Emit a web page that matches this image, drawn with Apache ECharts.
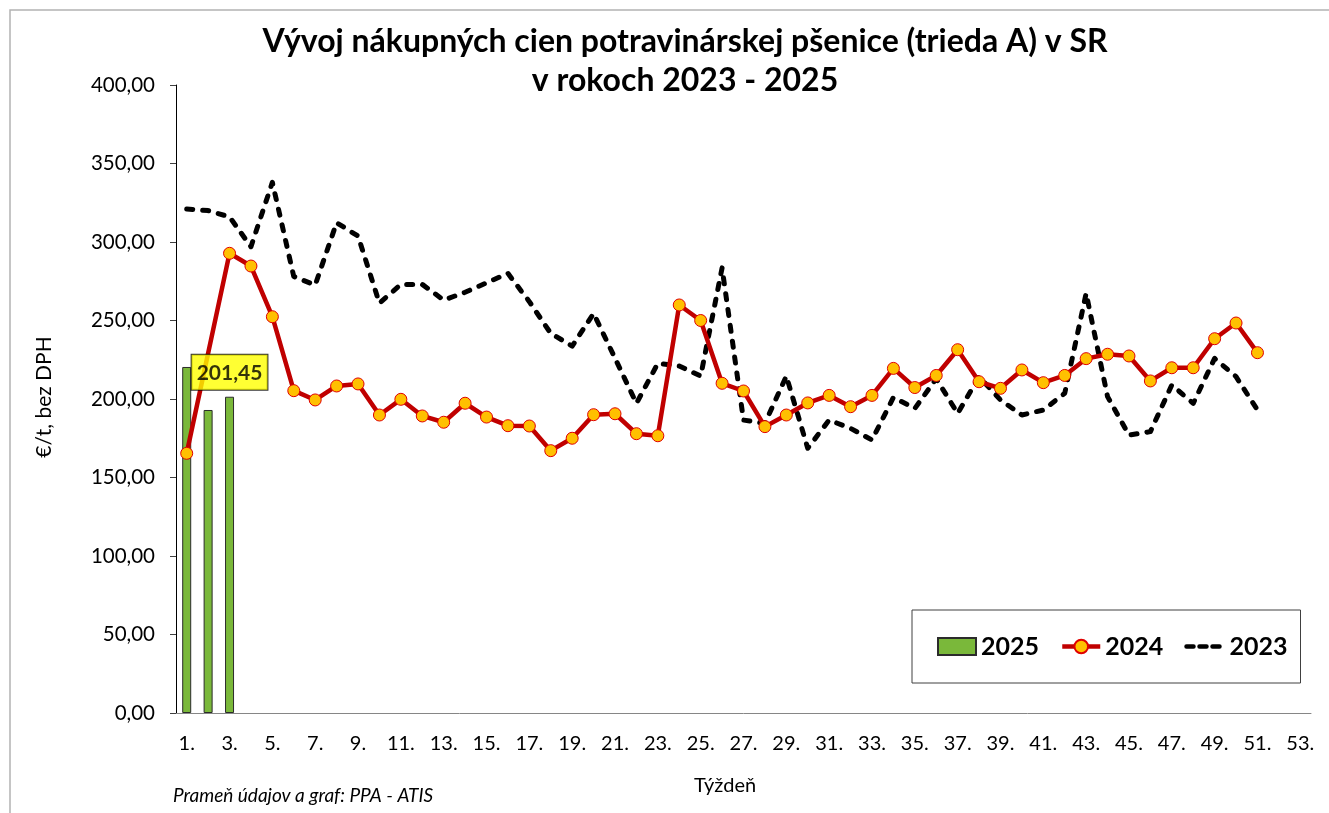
<!DOCTYPE html>
<html>
<head>
<meta charset="utf-8">
<script src="https://cdn.jsdelivr.net/npm/echarts@6/dist/echarts.min.js"></script>
<style>
    html, body { margin: 0; padding: 0; background: #fff; }
    #chart { width: 1329px; height: 813px; }
</style>
</head>
<body>
<div id="chart"></div>
<script>
// tyzdne 1. - 53.
var weeks = ['1.','2.','3.','4.','5.','6.','7.','8.','9.','10.','11.','12.','13.','14.','15.','16.','17.','18.','19.','20.',
    '21.','22.','23.','24.','25.','26.','27.','28.','29.','30.','31.','32.','33.','34.','35.','36.','37.','38.','39.','40.',
    '41.','42.','43.','44.','45.','46.','47.','48.','49.','50.','51.','52.','53.'];

// 2025 - stlpce
var prices2025 = [220.4, 193.0, 201.45];

// 2024 - cervena ciara (2. tyzden skryty pod popisom)
var prices2024 = [165.4, '-', 292.8, 284.7, 252.4, 205.3, 199.4, 208.3, 209.6, 189.8,
    199.8, 189.2, 185.2, 197.3, 188.5, 183.0, 182.8, 167.1, 175.0, 190.0,
    190.6, 177.9, 176.6, 259.9, 250.0, 210.0, 205.1, 182.4, 189.8, 197.5,
    202.3, 195.1, 202.3, 219.5, 207.3, 215.0, 231.4, 211.0, 206.8, 218.5,
    210.4, 215.0, 225.7, 228.5, 227.4, 211.5, 219.9, 219.9, 238.4, 248.4,
    229.5];

// 2023 - ciarkovana ciara
var prices2023 = [321.0, 320.0, 316.0, 297.0, 338.0, 278.0, 272.6, 312.3, 303.8, 261.0,
    273.0, 273.0, 263.0, 268.0, 274.0, 280.0, 262.0, 241.8, 233.7, 254.5,
    226.0, 197.2, 222.7, 221.0, 214.6, 283.5, 186.6, 184.5, 214.6, 168.6,
    186.6, 181.3, 173.9, 201.0, 194.0, 213.0, 190.8, 214.2, 199.4, 189.8,
    193.0, 203.6, 267.3, 201.5, 177.0, 179.2, 208.9, 197.2, 225.9, 214.2,
    193.0];

var yTicks = [0, 50, 100, 150, 200, 250, 300, 350, 400];

var font = 'Lato, "Open Sans", sans-serif';

function fmt(v) {
    return Number(v).toFixed(2).replace('.', ',');
}

// popis len pri poslednom stlpci
var lastLabel = prices2025.map(function (v, i) {
    return i === prices2025.length - 1 ? v : '-';
});

var myChart = echarts.init(document.getElementById('chart'));

var option = {
    backgroundColor: '#fff',
    animation: false,
    textStyle: { fontFamily: font },
    grid: {
        left: 176, right: 18, top: 85, bottom: 100,
        outerBoundsMode: 'none'
    },
    legend: {
        left: 912, top: 610,
        orient: 'horizontal',
        backgroundColor: '#fff',
        borderColor: '#404040',
        borderWidth: 1,
        padding: [24, 13, 24, 25],
        itemGap: 21,
        itemWidth: 38,
        itemHeight: 17,
        textStyle: { fontSize: 25, fontWeight: 'bold', color: '#000', fontFamily: font },
        data: [
            { name: '2025', icon: 'rect' },
            { name: '2024', lineStyle: { width: 4.5 } },
            {
                name: '2023',
                itemStyle: { color: 'transparent', borderWidth: 0 },
                lineStyle: { width: 4.5, type: [7, 6], cap: 'round' }
            }
        ]
    },
    xAxis: {
        type: 'category',
        data: weeks,
        boundaryGap: true,
        axisLine: { lineStyle: { color: '#868686', width: 1 } },
        axisTick: { interval: 1, length: 6, lineStyle: { color: '#404040' } },
        axisLabel: { interval: 1, fontSize: 20, color: '#000', margin: 21, fontFamily: font },
        splitLine: { show: false }
    },
    yAxis: {
        type: 'value',
        min: yTicks[0],
        max: yTicks[yTicks.length - 1],
        interval: 50,
        axisLine: { show: true, lineStyle: { color: '#000', width: 1 } },
        axisTick: { show: true, length: 6, lineStyle: { color: '#404040' } },
        axisLabel: { fontSize: 20.5, color: '#000', margin: 21, formatter: fmt, fontFamily: font },
        splitLine: { show: false }
    },
    series: [
        {
            name: '2025',
            type: 'bar',
            data: prices2025,
            barWidth: 9,
            z: 1,
            itemStyle: { color: '#7AB83A', borderColor: '#2b2b2b', borderWidth: 1 }
        },
        {
            name: '2023',
            type: 'line',
            data: prices2023,
            symbol: 'none',
            z: 2,
            lineStyle: { color: '#000', width: 5, type: [6, 10], cap: 'round', join: 'round' },
            itemStyle: { color: '#000' }
        },
        {
            name: '2024',
            type: 'line',
            data: prices2024,
            connectNulls: true,
            symbol: 'circle',
            symbolSize: 12,
            z: 3,
            lineStyle: { color: '#C00000', width: 4.5 },
            itemStyle: { color: '#FFC000', borderColor: '#E00000', borderWidth: 1 }
        },
        {
            name: 'popis',
            type: 'scatter',
            data: lastLabel,
            symbolSize: 0,
            z: 10,
            silent: true,
            label: {
                show: true,
                position: 'top',
                distance: 7,
                formatter: function (p) { return fmt(p.value); },
                fontSize: 21,
                fontWeight: 'bold',
                color: '#000',
                fontFamily: font,
                backgroundColor: '#FFFF00',
                borderColor: '#000',
                borderWidth: 1,
                padding: [8, 5, 6, 5]
            }
        }
    ],
    graphic: [
        {
            type: 'rect',
            shape: { x: 10, y: 10, width: 1340, height: 900 },
            style: { fill: 'none', stroke: '#b3b3b3', lineWidth: 1.5 },
            silent: true
        },
        {
            type: 'text',
            x: 685, y: 42,
            style: {
                text: 'Vývoj nákupných cien potravinárskej pšenice (trieda A) v SR',
                align: 'center', verticalAlign: 'middle',
                font: 'bold 32px ' + font, fill: '#000'
            }
        },
        {
            type: 'text',
            x: 685, y: 81,
            style: {
                text: 'v rokoch 2023 - 2025',
                align: 'center', verticalAlign: 'middle',
                font: 'bold 32px ' + font, fill: '#000'
            }
        },
        {
            type: 'text',
            x: 44, y: 397,
            rotation: Math.PI / 2,
            style: {
                text: '€/t, bez DPH',
                align: 'center', verticalAlign: 'middle',
                font: '21px ' + font, fill: '#000'
            }
        },
        {
            type: 'text',
            x: 725, y: 786,
            style: {
                text: 'Týždeň',
                align: 'center', verticalAlign: 'middle',
                font: '20px ' + font, fill: '#000'
            }
        },
        {
            type: 'text',
            x: 173, y: 796,
            style: {
                text: 'Prameň údajov a graf: PPA - ATIS',
                align: 'left', verticalAlign: 'middle',
                font: 'italic 19px ' + font, fill: '#000'
            }
        }
    ]
};

myChart.setOption(option);
</script>
</body>
</html>
